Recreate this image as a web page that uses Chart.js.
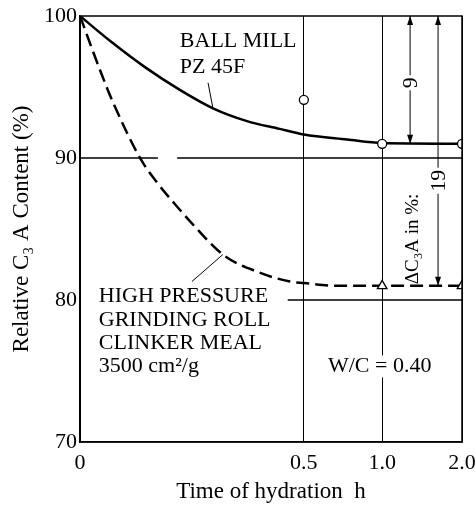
<!DOCTYPE html>
<html>
<head>
<meta charset="utf-8">
<script src="https://cdn.jsdelivr.net/npm/chart.js@4"></script>
<style>
  body { margin: 0; background: #fff; }
  #wrap { width: 475px; height: 512px; position: relative; }
</style>
</head>
<body>
<div id="wrap"><canvas id="c"></canvas></div>
<script>
// x axis is not linear in hours: ticks at 0, 0.5, 1.0, 2.0 h
const tickHours = [0, 0.5, 1.0, 2.0];
const tickLabels = ['0', '0.5', '1.0', '2.0'];
const yTicks = [70, 80, 90, 100];

// Ball mill PZ 45F (solid curve)
const ballMillHours = [0, 0.069, 0.145, 0.223, 0.297, 0.373, 0.446, 0.5, 0.776, 1.0, 2.0];
const ballMillC3A = [100, 98.2, 96.4, 94.8, 93.5, 92.6, 92.05, 91.65, 91.3, 91.05, 91.0];
// High pressure grinding roll clinker meal (dashed curve)
const hpgrHours = [0, 0.047, 0.074, 0.136, 0.174, 0.219, 0.25, 0.319, 0.395, 0.469, 0.5, 0.72, 1.0, 2.0];
const hpgrC3A = [100, 96.0, 93.9, 89.9, 88.2, 86.5, 85.4, 83.2, 82.0, 81.3, 81.2, 81.0, 81.0, 81.0];
// measured points
const ballMillMeasHours = [0.5, 1.0, 2.0];
const ballMillMeas = [94.1, 91.0, 91.0];
const hpgrMeasHours = [1.0, 2.0];
const hpgrMeas = [81.0, 81.0];

// where the ticks sit along the axis (0..10)
const tickPos = [0, 5.86, 7.91, 10];

function hx(h) {
  for (let i = 1; i < tickHours.length; i++) {
    if (h <= tickHours[i]) {
      const t = (h - tickHours[i - 1]) / (tickHours[i] - tickHours[i - 1]);
      return tickPos[i - 1] + t * (tickPos[i] - tickPos[i - 1]);
    }
  }
  return tickPos[tickPos.length - 1];
}

function pts(hours, vals) {
  return hours.map((h, i) => (h === null ? { x: null, y: null } : { x: hx(h), y: vals[i] }));
}

const serif = "'Liberation Serif', 'DejaVu Serif', serif";

const lineStyle = { showLine: true, pointRadius: 0, borderColor: '#000', fill: false };

const annot = {
  id: 'annot',
  afterDatasetsDraw(chart) {
    const { ctx, chartArea: a, scales: { x, y } } = chart;
    const P = (h, v) => [x.getPixelForValue(hx(h)), y.getPixelForValue(v)];
    ctx.save();
    ctx.strokeStyle = '#000';
    ctx.fillStyle = '#000';
    ctx.lineWidth = 1.5;
    ctx.strokeRect(a.left, a.top, a.right - a.left, a.bottom - a.top);

    // double arrows with rotated labels
    function arrow(h, v1, v2, label, vLabel) {
      const [px, p1] = P(h, v1);
      const p2 = P(h, v2)[1];
      ctx.lineWidth = 1;
      ctx.beginPath(); ctx.moveTo(px, p1); ctx.lineTo(px, p2); ctx.stroke();
      [[p1, 1], [p2, -1]].forEach(([py, d]) => {
        ctx.beginPath();
        ctx.moveTo(px, py);
        ctx.lineTo(px - 3, py + d * 9);
        ctx.lineTo(px + 3, py + d * 9);
        ctx.closePath(); ctx.fill();
      });
      const ly = P(h, vLabel)[1];
      ctx.save();
      ctx.translate(px, ly);
      ctx.rotate(-Math.PI / 2);
      ctx.font = '22px ' + serif;
      const w = ctx.measureText(label).width;
      ctx.fillStyle = '#fff';
      ctx.fillRect(-w / 2 - 2, -9, w + 4, 18);
      ctx.fillStyle = '#000';
      ctx.textAlign = 'center';
      ctx.textBaseline = 'middle';
      ctx.fillText(label, 0, 1);
      ctx.restore();
    }
    arrow(1.35, 100, 91, '9', 95.3);
    arrow(1.70, 100, 81, '19', 88.4);

    ctx.save();
    const [dx, dy] = P(1.39, 84.3);
    ctx.translate(dx, dy);
    ctx.rotate(-Math.PI / 2);
    ctx.font = '19px ' + serif;
    ctx.textAlign = 'center';
    ctx.textBaseline = 'middle';
    ctx.fillText('\u0394C\u2083A in %:', 0, 0);
    ctx.restore();

    // curve labels
    ctx.font = '22px ' + serif;
    ctx.textAlign = 'left';
    ctx.textBaseline = 'alphabetic';
    const texts = [
      ['BALL MILL', 0.223, 97.8],
      ['PZ 45F', 0.223, 96.0],
      ['HIGH PRESSURE', 0.042, 79.85],
      ['GRINDING ROLL', 0.042, 78.2],
      ['CLINKER MEAL', 0.042, 76.55],
      ['3500 cm\u00b2/g', 0.042, 74.9],
      ['W/C = 0.40', 0.654, 74.9, true]
    ];
    texts.forEach(([t, h, v, bg]) => {
      const [tx, ty] = P(h, v);
      if (bg) {
        const w = ctx.measureText(t).width;
        ctx.fillStyle = '#fff';
        ctx.fillRect(tx - 2, ty - 17, w + 4, 22);
        ctx.fillStyle = '#000';
      }
      ctx.fillText(t, tx, ty);
    });
    ctx.restore();
  }
};

new Chart(document.getElementById('c'), {
  type: 'scatter',
  data: {
    datasets: [
      {
        data: pts(ballMillMeasHours, ballMillMeas),
        pointStyle: 'circle', pointRadius: 4.5, pointBackgroundColor: '#fff',
        pointBorderColor: '#000', pointBorderWidth: 1.3, order: 0
      },
      {
        data: pts(hpgrMeasHours, hpgrMeas),
        pointStyle: 'triangle', pointRadius: 5.5, pointBackgroundColor: '#fff',
        pointBorderColor: '#000', pointBorderWidth: 1.3, order: 0
      },
      {
        ...lineStyle, data: pts(ballMillHours, ballMillC3A),
        borderWidth: 2.5, cubicInterpolationMode: 'monotone', order: 1
      },
      {
        ...lineStyle, data: pts(hpgrHours, hpgrC3A),
        borderWidth: 2.5, borderDash: [13, 6], cubicInterpolationMode: 'monotone', order: 1
      },
      {
        ...lineStyle, data: pts([0, 0.174, null, 0.217, 2.0], [90, 90, null, 90, 90]),
        borderWidth: 1.3, spanGaps: false, order: 2
      },
      {
        ...lineStyle, data: pts([0.464, 2.0], [80, 80]),
        borderWidth: 1.3, order: 2
      },
      // leader lines to the curve labels
      { ...lineStyle, data: pts([0.286, 0.297], [95.3, 93.5]), borderWidth: 1, order: 2 },
      { ...lineStyle, data: pts([0.25, 0.319], [81.3, 83.2]), borderWidth: 1, order: 2 }
    ]
  },
  options: {
    responsive: true,
    maintainAspectRatio: false,
    animation: false,
    layout: { padding: { top: 16, right: 13, left: 0, bottom: 0 } },
    plugins: { legend: { display: false }, tooltip: { enabled: false } },
    scales: {
      x: {
        type: 'linear', min: 0, max: 10,
        afterBuildTicks: s => { s.ticks = tickHours.map(h => ({ value: hx(h) })); },
        afterFit: s => { s.height = 70; s.paddingLeft = 0; s.paddingRight = 0; },
        ticks: {
          callback: (v, i) => tickLabels[i],
          color: '#000', font: { family: serif, size: 22 }, padding: 8, maxRotation: 0
        },
        grid: { color: '#000', lineWidth: 1, drawTicks: false },
        border: { color: '#000', width: 1.5 },
        title: {
          display: true, text: 'Time of hydration  h', color: '#000',
          font: { family: serif, size: 23 }, padding: { top: 0, bottom: 6 }
        }
      },
      y: {
        min: 70, max: 100,
        afterBuildTicks: s => { s.ticks = yTicks.map(v => ({ value: v })); },
        afterFit: s => { s.width = 80; s.paddingTop = 0; s.paddingBottom = 0; },
        ticks: { color: '#000', font: { family: serif, size: 22 }, padding: 3 },
        grid: { display: false, drawTicks: false, tickLength: 0 },
        border: { color: '#000', width: 1.5 },
        title: {
          display: true, text: 'Relative C\u2083 A Content (%)', color: '#000',
          font: { family: serif, size: 23 }, padding: { top: 8, bottom: 0 }
        }
      }
    }
  },
  plugins: [annot]
});
</script>
</body>
</html>
